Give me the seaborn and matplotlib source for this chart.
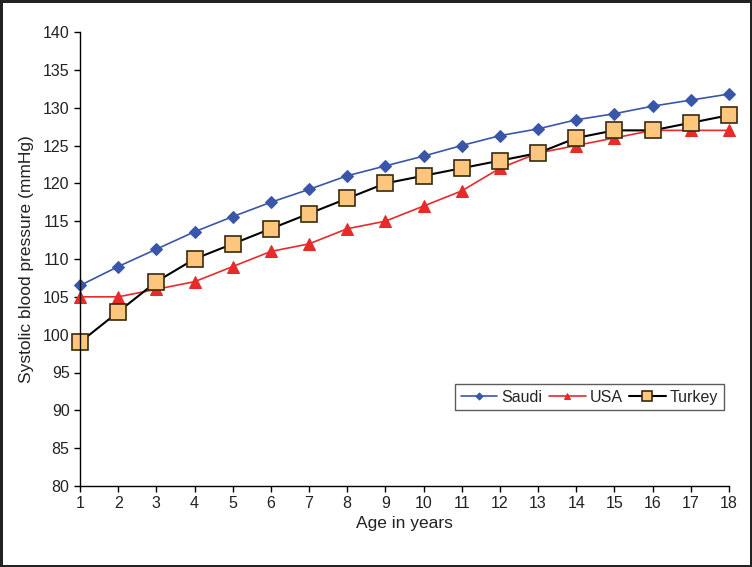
import matplotlib
matplotlib.use("Agg")
import matplotlib.pyplot as plt
import seaborn as sns
import pandas as pd
from matplotlib import font_manager

ages = list(range(1, 19))
saudi = [106.5, 109.0, 111.3, 113.6, 115.6, 117.5, 119.2, 121.0, 122.3, 123.6,
         125.0, 126.3, 127.2, 128.4, 129.2, 130.2, 131.0, 131.8]
usa = [105, 105, 106, 107, 109, 111, 112, 114, 115, 117,
       119, 122, 124, 125, 126, 127, 127, 127]
turkey = [99, 103, 107, 110, 112, 114, 116, 118, 120, 121,
          122, 123, 124, 126, 127, 127, 128, 129]
yticks = list(range(80, 141, 5))

sns.set_theme(style="ticks")
plt.rcParams['font.family'] = ['Liberation Sans', 'DejaVu Sans']

fig = plt.figure(figsize=(7.52, 5.67), dpi=100)
ax = fig.add_axes([80/752, 1-486/567, 649/752, 454/567])
fig.patch.set_edgecolor('#222222')
fig.patch.set_linewidth(2.5)

df = pd.DataFrame({"age": ages, "Saudi": saudi, "USA": usa, "Turkey": turkey})

sns.lineplot(data=df, x="age", y="Saudi", ax=ax, color="#3A56A8", lw=1.2,
             marker="D", markersize=6, markeredgecolor="#3A56A8", label="Saudi")
sns.lineplot(data=df, x="age", y="USA", ax=ax, color="#E82A2A", lw=1.2,
             marker="^", markersize=8, markeredgecolor="#E82A2A", label="USA")
sns.lineplot(data=df, x="age", y="Turkey", ax=ax, color="black", lw=1.5,
             marker="s", markersize=11.5, markerfacecolor="#FCC77C",
             markeredgecolor="#3a2a10", markeredgewidth=1.2, label="Turkey")

ax.set_xlim(1, 18)
ax.set_ylim(80, 140)
ax.set_xticks(ages)
ax.set_yticks(yticks)
ax.tick_params(labelsize=11.5, length=4, width=1, color="black", labelcolor="#222222")
for s in ["top", "right"]:
    ax.spines[s].set_visible(False)
for s in ["left", "bottom"]:
    ax.spines[s].set_color("black")
    ax.spines[s].set_linewidth(1)
ax.set_xlabel("Age in years", fontsize=12.5, color="#222222", labelpad=3)
ax.set_ylabel("Systolic blood pressure (mmHg)", fontsize=12.5, color="#222222", labelpad=6)
for l in ax.lines:
    l.set_clip_on(False)

leg = ax.legend(loc="lower left", bbox_to_anchor=(0.578, 0.167), ncol=3,
                frameon=True, fancybox=False, fontsize=11.5, handlelength=2.3,
                columnspacing=0.4, handletextpad=0.25, borderpad=0.35,
                borderaxespad=0, markerscale=0.6)
leg.get_frame().set_edgecolor("#333333")
leg.get_frame().set_linewidth(1)

fig.savefig("out.png", dpi=100)
